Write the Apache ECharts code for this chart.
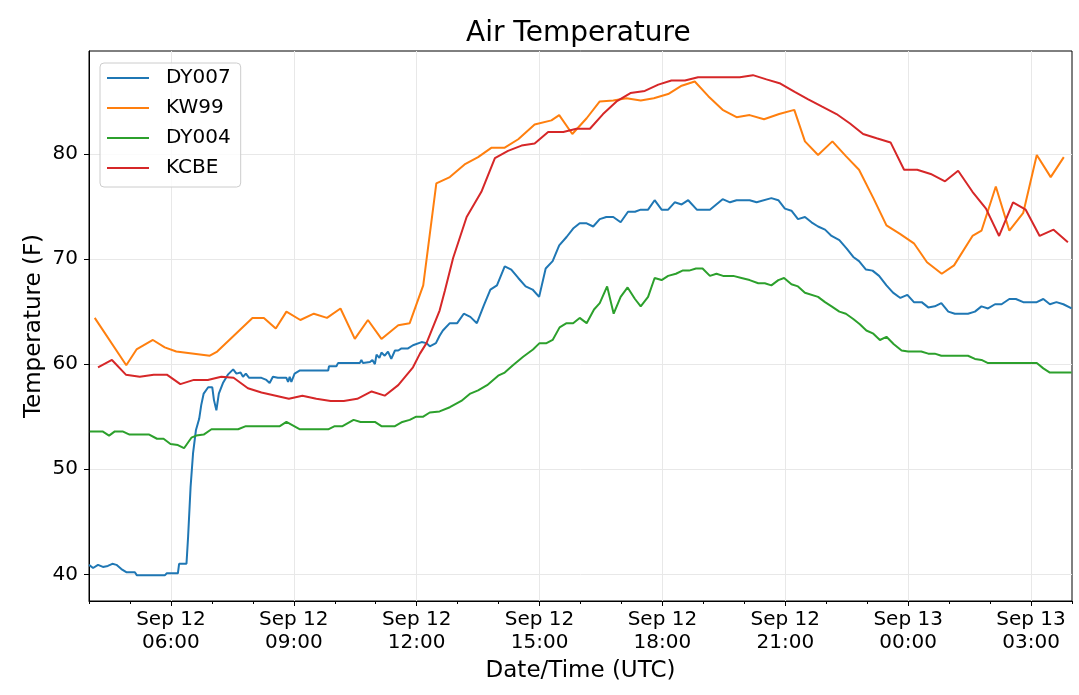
<!DOCTYPE html>
<html>
<head>
<meta charset="utf-8">
<title>Air Temperature</title>
<script src="https://cdn.jsdelivr.net/npm/echarts@6/dist/echarts.min.js"></script>
<style>
  html, body { margin: 0; padding: 0; background: #fff; }
  #chart { width: 1079px; height: 695px; }
</style>
</head>
<body>
<div id="chart"></div>
<script>
// hours since Sep 12 00:00 UTC, temperature (F)
const dy007 = [
  [4.0, 40.9], [4.1, 40.6], [4.22, 40.9], [4.34, 40.7], [4.46, 40.8], [4.57, 41.0], [4.67, 40.9],
  [4.79, 40.5], [4.91, 40.2], [5.12, 40.2], [5.17, 39.9], [5.85, 39.9], [5.9, 40.1], [6.17, 40.1],
  [6.2, 41.0], [6.38, 41.0], [6.42, 43.6], [6.48, 48.3], [6.54, 51.5], [6.61, 53.7], [6.69, 54.8],
  [6.74, 56.1], [6.8, 57.2], [6.91, 57.8], [7.01, 57.8], [7.05, 56.6], [7.11, 55.6], [7.17, 57.2],
  [7.27, 58.2], [7.39, 59.0], [7.52, 59.5], [7.6, 59.1], [7.7, 59.2], [7.76, 58.8], [7.83, 59.1],
  [7.91, 58.7], [8.21, 58.7], [8.33, 58.5], [8.41, 58.2], [8.49, 58.8], [8.61, 58.7], [8.82, 58.7],
  [8.86, 58.3], [8.9, 58.8], [8.94, 58.3], [9.02, 59.1], [9.15, 59.4], [9.84, 59.4], [9.86, 59.8],
  [10.04, 59.8], [10.08, 60.1], [10.61, 60.1], [10.65, 60.4], [10.69, 60.1], [10.86, 60.2], [10.92, 60.4],
  [10.98, 60.0], [11.02, 60.9], [11.09, 60.6], [11.14, 61.1], [11.22, 60.8], [11.3, 61.2], [11.38, 60.5],
  [11.47, 61.3], [11.55, 61.3], [11.63, 61.5], [11.79, 61.5], [11.91, 61.8], [12.12, 62.1], [12.24, 62.0],
  [12.32, 61.7], [12.47, 62.0], [12.56, 62.7], [12.64, 63.2], [12.81, 63.9], [12.99, 63.9], [13.15, 64.8],
  [13.31, 64.5], [13.47, 63.9], [13.64, 65.6], [13.8, 67.1], [13.96, 67.5], [14.15, 69.3], [14.31, 69.0],
  [14.48, 68.2], [14.66, 67.4], [14.83, 67.1], [14.99, 66.4], [15.15, 69.1], [15.32, 69.8], [15.48, 71.3],
  [15.66, 72.1], [15.82, 72.9], [15.98, 73.4], [16.15, 73.4], [16.31, 73.1], [16.47, 73.8], [16.63, 74.0],
  [16.8, 74.0], [16.98, 73.5], [17.16, 74.5], [17.33, 74.5], [17.47, 74.7], [17.65, 74.7], [17.81, 75.6],
  [17.98, 74.7], [18.14, 74.7], [18.3, 75.4], [18.47, 75.2], [18.63, 75.6], [18.84, 74.7], [19.16, 74.7],
  [19.47, 75.7], [19.65, 75.4], [19.81, 75.6], [20.13, 75.6], [20.3, 75.4], [20.66, 75.8], [20.83, 75.6],
  [20.99, 74.8], [21.15, 74.6], [21.31, 73.8], [21.48, 74.0], [21.64, 73.5], [21.8, 73.1], [21.97, 72.8],
  [22.13, 72.2], [22.32, 71.8], [22.5, 71.0], [22.66, 70.2], [22.8, 69.8], [22.97, 69.0], [23.13, 68.9],
  [23.29, 68.4], [23.47, 67.5], [23.63, 66.8], [23.81, 66.3], [23.98, 66.6], [24.14, 65.9], [24.33, 65.9],
  [24.49, 65.4], [24.65, 65.5], [24.81, 65.8], [24.98, 65.0], [25.14, 64.8], [25.46, 64.8], [25.63, 65.0],
  [25.79, 65.5], [25.95, 65.3], [26.12, 65.7], [26.28, 65.7], [26.47, 66.2], [26.63, 66.2], [26.81, 65.9],
  [27.14, 65.9], [27.3, 66.2], [27.46, 65.7], [27.62, 65.9], [27.79, 65.7], [27.99, 65.3]
];

const kw99 = [
  [4.14, 64.4], [4.91, 59.9], [5.16, 61.4], [5.56, 62.3], [5.85, 61.6], [6.13, 61.2], [6.95, 60.8],
  [7.13, 61.2], [7.99, 64.4], [8.27, 64.4], [8.56, 63.4], [8.82, 65.0], [9.16, 64.2], [9.49, 64.8],
  [9.81, 64.4], [10.14, 65.3], [10.49, 62.4], [10.81, 64.2], [11.14, 62.4], [11.55, 63.7], [11.83, 63.9],
  [12.16, 67.5], [12.48, 77.2], [12.81, 77.8], [13.17, 79.0], [13.5, 79.7], [13.83, 80.6], [14.15, 80.6],
  [14.48, 81.4], [14.88, 82.8], [15.29, 83.2], [15.48, 83.7], [15.8, 81.9], [16.15, 83.4], [16.47, 85.0],
  [16.8, 85.1], [17.12, 85.3], [17.47, 85.1], [17.79, 85.3], [18.14, 85.7], [18.47, 86.5], [18.79, 86.9],
  [19.12, 85.5], [19.47, 84.2], [19.81, 83.5], [20.13, 83.7], [20.48, 83.3], [20.85, 83.8], [21.22, 84.2],
  [21.48, 81.2], [21.8, 79.9], [22.15, 81.2], [22.48, 79.8], [22.8, 78.5], [23.15, 75.8], [23.47, 73.2],
  [23.8, 72.4], [24.14, 71.5], [24.46, 69.7], [24.82, 68.6], [25.12, 69.4], [25.57, 72.2], [25.79, 72.7],
  [26.14, 76.9], [26.47, 72.7], [26.81, 74.4], [27.14, 79.9], [27.48, 77.8], [27.8, 79.7]
];

const dy004 = [
  [4.02, 53.6], [4.33, 53.6], [4.49, 53.2], [4.63, 53.6], [4.82, 53.6], [4.99, 53.3], [5.47, 53.3],
  [5.66, 52.9], [5.82, 52.9], [5.99, 52.4], [6.17, 52.3], [6.32, 52.0], [6.5, 53.0], [6.62, 53.2],
  [6.8, 53.3], [6.99, 53.8], [7.64, 53.8], [7.83, 54.1], [8.66, 54.1], [8.82, 54.5], [9.15, 53.8],
  [9.84, 53.8], [10.0, 54.1], [10.19, 54.1], [10.46, 54.7], [10.63, 54.5], [10.98, 54.5], [11.14, 54.1],
  [11.47, 54.1], [11.65, 54.5], [11.83, 54.7], [11.99, 55.0], [12.16, 55.0], [12.32, 55.4], [12.56, 55.5],
  [12.81, 55.9], [13.09, 56.5], [13.31, 57.2], [13.5, 57.5], [13.72, 58.0], [13.99, 58.9], [14.15, 59.2],
  [14.35, 59.9], [14.6, 60.7], [14.84, 61.4], [15.0, 62.0], [15.17, 62.0], [15.32, 62.3], [15.49, 63.5],
  [15.66, 63.9], [15.82, 63.9], [15.98, 64.4], [16.15, 63.9], [16.33, 65.2], [16.47, 65.8], [16.65, 67.4],
  [16.81, 64.8], [16.98, 66.4], [17.15, 67.3], [17.33, 66.2], [17.47, 65.5], [17.65, 66.4], [17.81, 68.2],
  [17.98, 68.0], [18.14, 68.4], [18.33, 68.6], [18.49, 68.9], [18.65, 68.9], [18.82, 69.1], [18.98, 69.1],
  [19.16, 68.4], [19.32, 68.6], [19.48, 68.4], [19.73, 68.4], [19.93, 68.2], [20.13, 68.0], [20.34, 67.7],
  [20.5, 67.7], [20.66, 67.5], [20.83, 68.0], [20.97, 68.2], [21.15, 67.6], [21.31, 67.4], [21.48, 66.8],
  [21.8, 66.4], [21.97, 65.9], [22.13, 65.5], [22.32, 65.0], [22.48, 64.8], [22.66, 64.3], [22.82, 63.8],
  [22.98, 63.2], [23.15, 62.9], [23.31, 62.3], [23.47, 62.6], [23.65, 61.9], [23.84, 61.3], [24.0, 61.2],
  [24.32, 61.2], [24.49, 61.0], [24.65, 61.0], [24.81, 60.8], [25.46, 60.8], [25.63, 60.5], [25.79, 60.4],
  [25.95, 60.1], [27.14, 60.1], [27.3, 59.6], [27.46, 59.2], [27.99, 59.2]
];

const kcbe = [
  [4.22, 59.7], [4.56, 60.4], [4.9, 59.0], [5.24, 58.8], [5.58, 59.0], [5.9, 59.0], [6.23, 58.1],
  [6.56, 58.5], [6.9, 58.5], [7.23, 58.8], [7.53, 58.7], [7.88, 57.7], [8.21, 57.3], [8.56, 57.0],
  [8.88, 56.7], [9.21, 57.0], [9.55, 56.7], [9.9, 56.5], [10.22, 56.5], [10.55, 56.7], [10.9, 57.4],
  [11.22, 57.0], [11.55, 58.0], [11.91, 59.7], [12.08, 61.0], [12.24, 62.0], [12.56, 65.1], [12.69, 67.0],
  [12.89, 70.1], [13.22, 74.0], [13.58, 76.4], [13.91, 79.6], [14.23, 80.3], [14.56, 80.8], [14.88, 81.0],
  [15.21, 82.1], [15.58, 82.1], [15.9, 82.4], [16.23, 82.4], [16.55, 83.8], [16.88, 85.0], [17.22, 85.8],
  [17.57, 86.0], [17.9, 86.6], [18.22, 87.0], [18.55, 87.0], [18.87, 87.3], [19.89, 87.3], [20.21, 87.5],
  [20.54, 87.1], [20.88, 86.7], [21.23, 85.9], [21.56, 85.2], [21.9, 84.5], [22.25, 83.8], [22.58, 82.9],
  [22.9, 81.9], [23.23, 81.5], [23.57, 81.1], [23.9, 78.5], [24.22, 78.5], [24.55, 78.1], [24.9, 77.4],
  [25.22, 78.4], [25.57, 76.4], [25.9, 74.8], [26.22, 72.2], [26.56, 75.4], [26.87, 74.7], [27.21, 72.2],
  [27.55, 72.8], [27.9, 71.6]
];

const seriesNames = ['DY007', 'KW99', 'DY004', 'KCBE'];
const seriesColors = ['#1f77b4', '#ff7f0e', '#2ca02c', '#d62728'];
const seriesData = [dy007, kw99, dy004, kcbe];

const xTickHours = [6, 9, 12, 15, 18, 21, 24, 27];
const xTickLabels = ['Sep 12\n06:00', 'Sep 12\n09:00', 'Sep 12\n12:00', 'Sep 12\n15:00',
  'Sep 12\n18:00', 'Sep 12\n21:00', 'Sep 13\n00:00', 'Sep 13\n03:00'];
const yTicks = [40, 50, 60, 70, 80];

const chart = echarts.init(document.getElementById('chart'));

const font = 'DejaVu Sans';
const gridColor = '#e8e8e8';

const option = {
  animation: false,
  textStyle: { fontFamily: font, color: '#000' },
  title: {
    text: 'Air Temperature',
    left: 466,
    top: 20,
    padding: 0,
    textStyle: { fontFamily: font, fontSize: 28, fontWeight: 'normal', color: '#000' }
  },
  legend: {
    orient: 'vertical',
    left: 100,
    top: 63,
    padding: [5, 10, 9, 7],
    icon: 'rect',
    itemWidth: 42,
    itemHeight: 2,
    itemGap: 10,
    backgroundColor: 'rgba(255,255,255,0.8)',
    borderColor: '#cccccc',
    borderWidth: 1,
    borderRadius: 4,
    data: seriesNames,
    textStyle: { fontFamily: font, fontSize: 20, lineHeight: 20, color: '#000', padding: [0, 0, 0, 12] }
  },
  grid: {
    left: 89,
    right: 7,
    top: 51,
    bottom: 94,
    show: true,
    borderColor: '#000',
    borderWidth: 1
  },
  xAxis: [
    {
      type: 'value',
      min: 4,
      max: 28,
      name: 'Date/Time (UTC)',
      nameLocation: 'middle',
      nameGap: 59,
      nameMoveOverlap: false,
      nameTextStyle: { fontFamily: font, fontSize: 23, color: '#000' },
      axisLine: { show: true, lineStyle: { color: '#000', width: 1 } },
      axisTick: { show: true, customValues: xTickHours, length: 5, lineStyle: { color: '#000' } },
      axisLabel: {
        customValues: xTickHours,
        fontFamily: font,
        fontSize: 20,
        lineHeight: 23,
        color: '#000',
        margin: 7,
        formatter: function (v) {
          const i = xTickHours.indexOf(v);
          return i >= 0 ? xTickLabels[i] : '';
        }
      },
      splitLine: { show: true, lineStyle: { color: gridColor, width: 1 } }
    },
    {
      type: 'value',
      min: 4,
      max: 28,
      interval: 1,
      position: 'bottom',
      axisLine: { show: false },
      axisTick: { show: true, length: 3, lineStyle: { color: '#000' } },
      axisLabel: { show: false },
      splitLine: { show: false }
    }
  ],
  yAxis: {
    type: 'value',
    min: 37.46,
    max: 89.8,
    name: 'Temperature (F)',
    nameLocation: 'middle',
    nameGap: 43,
    nameMoveOverlap: false,
    nameTextStyle: { fontFamily: font, fontSize: 23, color: '#000' },
    axisLine: { show: true, lineStyle: { color: '#000', width: 1 } },
    axisTick: { show: true, customValues: yTicks, length: 5, lineStyle: { color: '#000' } },
    axisLabel: {
      customValues: yTicks,
      fontFamily: font,
      fontSize: 20,
      color: '#000',
      margin: 11
    },
    splitLine: { show: true, lineStyle: { color: gridColor, width: 1 } }
  },
  series: seriesNames.map(function (name, i) {
    return {
      name: name,
      type: 'line',
      xAxisIndex: 0,
      data: seriesData[i],
      showSymbol: false,
      symbol: 'none',
      color: seriesColors[i],
      lineStyle: { width: 2, color: seriesColors[i] },
      emphasis: { disabled: true }
    };
  })
};

chart.setOption(option);
</script>
</body>
</html>
